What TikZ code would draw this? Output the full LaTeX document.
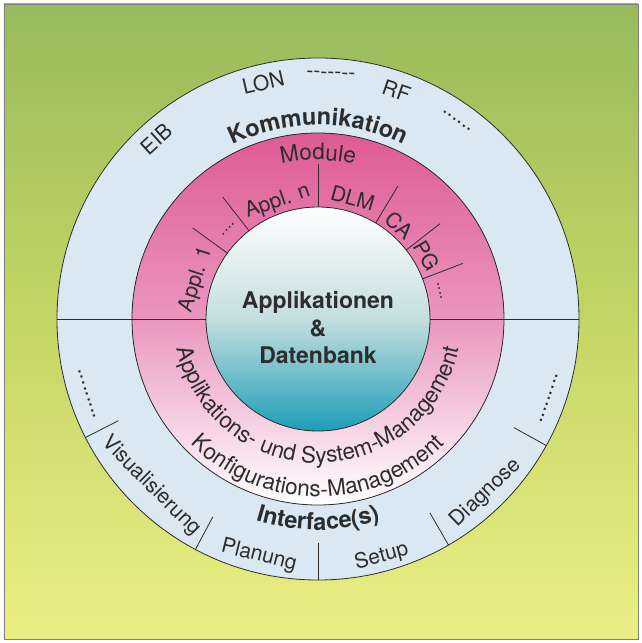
\documentclass[tikz,border=0pt]{standalone}
\usepackage{fontspec}
\setmainfont{TeX Gyre Heros}
\usetikzlibrary{decorations.text}
\definecolor{bggreen}{RGB}{150,186,92}
\definecolor{bgmid}{RGB}{196,214,100}
\definecolor{bgyellow}{RGB}{236,238,132}
\definecolor{ringblue}{RGB}{218,232,243}
\definecolor{modpink}{RGB}{222,90,148}
\definecolor{midpink}{RGB}{234,150,192}
\definecolor{dbteal}{RGB}{28,158,184}
\definecolor{dbmid}{RGB}{196,222,222}
\definecolor{ink}{RGB}{45,45,45}
\tikzstyle{lab}=[inner sep=0,text=ink,font=\fontsize{21}{21}\selectfont]
\tikzstyle{sep}=[draw=ink,line width=0.8pt]
\newcommand{\arcfont}{\bfseries\fontsize{23.5}{23.5}\selectfont}
\newcommand{\labfont}{\fontsize{22.5}{22.5}\selectfont}
\newcommand{\dotfont}{\fontsize{16}{16}\selectfont}

\begin{document}
\begin{tikzpicture}[x=1pt,y=1pt,
    arctext/.style={decorate,decoration={text along path,text align=center,
        text color=ink,text={#1}}}
    ]

    \useasboundingbox[fill=white] (-318,-324) rectangle (323,319);

    % background
    \path[top color=bggreen,bottom color=bgyellow,middle color=bgmid,draw=gray]
      (-314,315) rectangle (320,-320);

    % rings
    \fill[ringblue] (0,0) circle[radius=261];
    \fill[top color=modpink,bottom color=white,middle color=midpink] (0,0) circle[radius=186];
    \fill[top color=white,bottom color=dbteal,middle color=dbmid] (0,0) circle[radius=112];
    \draw[sep] (0,0) circle[radius=261] (0,0) circle[radius=186] (0,0) circle[radius=112];
    \draw[sep] (180:261) -- (180:112) (0:112) -- (0:261);

    % module dividers
    \foreach \a in {21,38,59,90,128,144} {
      \draw[sep] (\a:112) -- (\a:155);
    }
    % interface dividers
    \foreach \a in {207,242,270,300,331} {
      \draw[sep] (\a:224) -- (\a:261);
    }

    % module labels
    \foreach \a/\r/\t [count=\i] in {162/128/{Appl. 1},135/127/{\dotfont....},
        109/124/{Appl. n},74/126/DLM,49/124/CA,30/126/PG,13/125/{\dotfont....}} {
      \node[lab,rotate=\a-90] (mod\i) at (\a:\r) {\t};
    }

    % communication labels
    \foreach \a/\r/\t [count=\i] in {132/242/EIB,103/243/LON,87/244/{-{}-{}-{}-{}-{}-{}-},
        71/241/RF,55/242/{......}} {
      \node[lab,rotate=\a-90] (com\i) at (\a:\r) {\t};
    }
    % interface labels
    \foreach \a/\r/\t [count=\i] in {198/243/{.........},225/236/Visualisierung,256/244/Planung,
        285/246/Setup,314/242/Diagnose,341/244/{.........}} {
      \node[lab,rotate=\a+90] (ifc\i) at (\a:\r) {\t};
    }

    % ring titles
    \path[arctext={|\arcfont|Kommunikation}] (125:194) arc[start angle=125,end angle=55,radius=194];
    \path[arctext={|\labfont|Module}] (120:159) arc[start angle=120,end angle=60,radius=159];
    \path[arctext={|\arcfont|Interface(s)}] (240:211) arc[start angle=240,end angle=300,radius=211];
    \path[arctext={|\labfont|Applikations- und System-Management}]
      (185:144) arc[start angle=185,end angle=355,radius=144];
    \path[arctext={|\labfont|Konfigurations-Management}]
      (215:178) arc[start angle=215,end angle=325,radius=178];

    % centre
    \node[align=center,text=ink,font=\bfseries\fontsize{23}{27.5}\selectfont] (db) at (0,-9)
      {Applikationen\\\&\\Datenbank};

\end{tikzpicture}
\end{document}
